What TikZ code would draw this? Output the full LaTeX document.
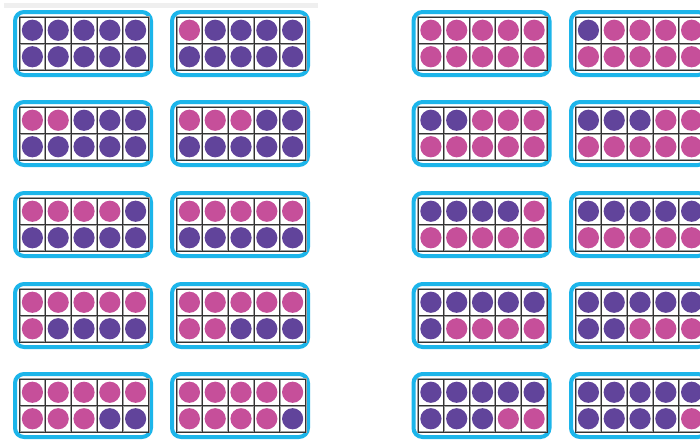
\documentclass[tikz,border=0pt]{standalone}
\definecolor{fpurple}{HTML}{61449B}
\definecolor{fpink}{HTML}{C64F9A}
\definecolor{fcyan}{HTML}{1CB5EA}
\definecolor{fgridd}{HTML}{333333}
\definecolor{fgridl}{HTML}{A0A0A0}
\definecolor{fband}{HTML}{EFEFEF}
\newcommand\tenframe[5]{% left, top, count of first colour, first colour, second colour
  \begin{scope}[shift={(#1,#2)}]
    \draw[cyanframe] (2,2) rectangle (138,65);
    \foreach \i in {0,...,9}{
      \pgfmathtruncatemacro\cc{mod(\i,5)}
      \pgfmathtruncatemacro\rr{div(\i,5)}
      \ifnum\i<#3 \def\dotcol{#4}\else\def\dotcol{#5}\fi
      \fill[\dotcol] ({6.5+(\cc+0.5)*25.8},{7+(\rr+0.5)*26.5}) circle (10.6);
    }
    \foreach \k in {1,...,4}{
      \draw[gridlight] ({6.5+\k*25.8},7) -- ({6.5+\k*25.8},60);
    }
    \draw[gridlight] (6.5,33.5) -- (135.5,33.5);
    \draw[gridlight] (6.5,7) rectangle (135.5,60);
    \foreach \k in {1,...,4}{
      \draw[griddark] ({6.5+\k*25.8},7) -- ({6.5+\k*25.8},60);
    }
    \draw[griddark] (6.5,33.5) -- (135.5,33.5);
    \draw[griddark] (6.5,7) rectangle (135.5,60);
  \end{scope}}
\begin{document}
\begin{tikzpicture}[x=1pt,y=-1pt,
  cyanframe/.style={draw=fcyan, line width=4pt, rounded corners=9pt},
  gridlight/.style={draw=fgridl, line width=2pt},
  griddark/.style={draw=fgridd, line width=0.8pt}]
  \useasboundingbox (0,0) rectangle (700,439);
  \fill[white] (0,0) rectangle (700,439);
  \fill[fband] (4,2.8) rectangle (318,8.2);
  \begin{scope}
    \clip (0,0) rectangle (700,439);
    % left group: pink first
    \foreach \T/\na/\nb in {10/0/1, 100/2/3, 191/4/5, 282/6/7, 372/8/9}{
      \tenframe{13}{\T}{\na}{fpink}{fpurple}
      \tenframe{170}{\T}{\nb}{fpink}{fpurple}
    }
    % right group: purple first
    \foreach \T/\na/\nb in {10/0/1, 100/2/3, 191/4/5, 282/6/7, 372/8/9}{
      \tenframe{411.5}{\T}{\na}{fpurple}{fpink}
      \tenframe{569}{\T}{\nb}{fpurple}{fpink}
    }
  \end{scope}
\end{tikzpicture}
\end{document}
